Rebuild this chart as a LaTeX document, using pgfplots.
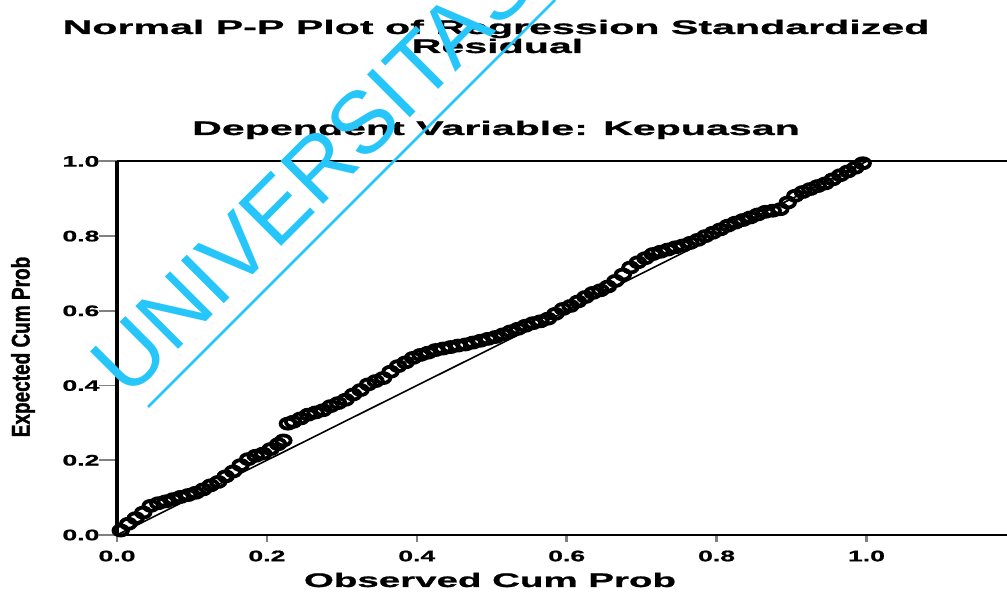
\documentclass[border=0pt]{standalone}
\usepackage{fontspec}
\usepackage{pgfplots}
\pgfplotsset{compat=1.18}
\setmainfont{Liberation Sans}
\newfontfamily\titlefont{Liberation Sans Bold}[FakeStretch=2.1, FakeBold=1.2]
\newfontfamily\tickfont{Liberation Sans Bold}[FakeStretch=1.75, FakeBold=1]
\newfontfamily\ylabfont{Liberation Sans Bold}[FakeBold=1.5]
\definecolor{wmcyan}{RGB}{38,198,250}

% P-P plot points: observed cum prob, expected cum prob
\pgfplotstableread{
x y
0.005 0.012
0.015 0.030
0.025 0.045
0.035 0.060
0.045 0.078
0.055 0.085
0.065 0.090
0.075 0.096
0.085 0.102
0.095 0.107
0.105 0.113
0.115 0.122
0.125 0.133
0.135 0.142
0.145 0.157
0.155 0.170
0.165 0.187
0.175 0.203
0.185 0.212
0.195 0.218
0.205 0.230
0.215 0.243
0.222 0.253
0.228 0.298
0.235 0.303
0.245 0.312
0.255 0.322
0.265 0.328
0.275 0.334
0.285 0.345
0.295 0.353
0.305 0.362
0.315 0.376
0.325 0.388
0.335 0.403
0.345 0.412
0.355 0.420
0.365 0.437
0.375 0.452
0.385 0.462
0.395 0.474
0.405 0.482
0.415 0.488
0.425 0.495
0.435 0.499
0.445 0.503
0.455 0.507
0.465 0.510
0.475 0.515
0.485 0.520
0.495 0.525
0.505 0.530
0.515 0.537
0.525 0.545
0.535 0.552
0.545 0.560
0.555 0.567
0.565 0.572
0.575 0.579
0.585 0.592
0.595 0.605
0.605 0.613
0.615 0.625
0.625 0.637
0.635 0.648
0.645 0.655
0.655 0.665
0.665 0.680
0.675 0.697
0.685 0.716
0.695 0.730
0.705 0.741
0.715 0.752
0.725 0.758
0.735 0.764
0.745 0.770
0.755 0.775
0.765 0.782
0.775 0.790
0.785 0.800
0.795 0.809
0.805 0.818
0.815 0.828
0.825 0.836
0.835 0.843
0.845 0.850
0.855 0.858
0.865 0.865
0.875 0.868
0.885 0.872
0.895 0.890
0.905 0.908
0.915 0.918
0.925 0.926
0.935 0.934
0.945 0.941
0.955 0.952
0.965 0.963
0.975 0.973
0.985 0.983
0.995 0.995
}\pptable

\begin{document}
\begin{tikzpicture}
% page = 1007 x 592 px, 1 px = 0.5pt
\useasboundingbox (0,0) rectangle (503.5pt,296pt);

\begin{axis}[
    at={(58.5pt,28.5pt)}, anchor=south west,
    scale only axis,
    width=445pt, height=186.8pt,
    xmin=0, xmax=1.1875,
    ymin=0, ymax=1,
    axis x line*=box,
    axis y line*=left,
    axis line style={-},
    x axis line style={line width=0.9pt},
    y axis line style={line width=1.6pt},
    xtick={0,0.2,0.4,0.6,0.8,1.0},
    ytick={0,0.2,0.4,0.6,0.8,1.0},
    xtick pos=bottom, ytick pos=left,
    tick align=outside,
    xtick style={line width=1.2pt, /pgfplots/major tick length=3.5pt},
    ytick style={line width=0.9pt, /pgfplots/major tick length=9pt},
    /pgf/number format/.cd, fixed, fixed zerofill, precision=1, assume math mode=true,
    /pgfplots/.cd,
    ticklabel style={font=\tickfont\fontsize{7.6}{8}\selectfont},
    yticklabel style={xshift=-1pt},
    clip=false,
]
\addplot[black, line width=0.8pt] coordinates {(0,0) (1,1)};
\addplot[black, only marks, mark=o, mark size=2.5pt,
    mark options={xscale=1.45, line width=1.9pt}] table {\pptable};
\end{axis}

% titles
\node[anchor=base, font=\titlefont\fontsize{9.8}{11}\selectfont] at (248pt,279pt)
    {Normal P-P Plot of Regression Standardized};
\node[anchor=base, font=\titlefont\fontsize{9.8}{11}\selectfont] at (248.75pt,269.5pt)
    {Residual};
\node[anchor=base, font=\titlefont\fontsize{9.8}{11}\selectfont] at (248pt,228.5pt)
    {Dependent Variable: Kepuasan};
\node[anchor=base, font=\titlefont\fontsize{9.8}{11}\selectfont] at (245pt,2.5pt)
    {\scalebox{0.935}[1]{Observed Cum Prob}};
\node[rotate=90, anchor=center] at (11.5pt,122.5pt)
    {\scalebox{1}[1.35]{\ylabfont\fontsize{9.5}{11}\selectfont Expected Cum Prob}};

% watermark
\node[rotate=45, anchor=base west, text=wmcyan, font=\fontsize{44}{50}\selectfont, inner sep=0pt]
    at (64pt,96pt) {UNIVERSITAS};
\draw[wmcyan, line width=1.3pt] (74pt,92.5pt) -- (277.5pt,296pt);
\end{tikzpicture}
\end{document}
